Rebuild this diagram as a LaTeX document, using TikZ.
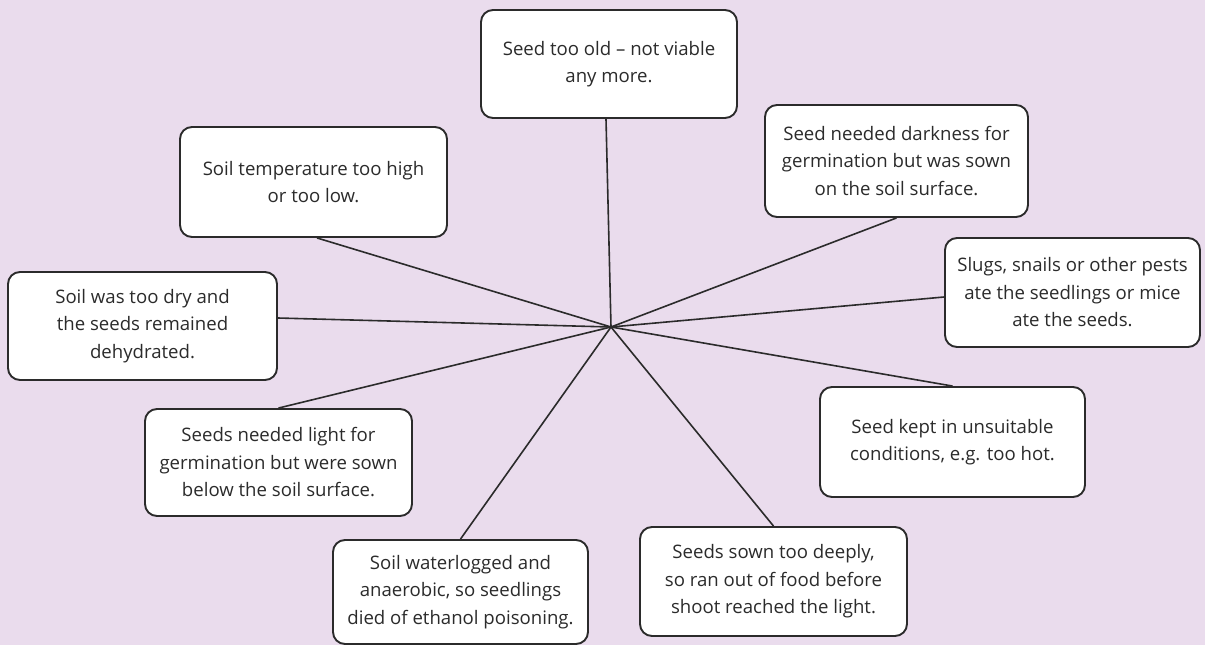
\documentclass[tikz,border=0pt]{standalone}
\usepackage{fontspec}
\setmainfont{Open Sans}
\definecolor{bgc}{HTML}{EADCED}
\definecolor{ink}{HTML}{2B2B2B}
\begin{document}
\begin{tikzpicture}[x=1pt,y=-1pt,
  cbox/.style={draw=ink, line width=1.9pt, fill=white, rounded corners=12pt,
    align=center, inner sep=0pt, text=ink,
    font=\fontsize{18.6}{27.5}\selectfont},
  spoke/.style={draw=ink, line width=1.6pt}]
\useasboundingbox[fill=bgc] (0,0) rectangle (1205,645);
\coordinate (c) at (611,327);
\node[cbox, minimum width=256pt, minimum height=108pt] (b1) at (609,64) {Seed too old -- not viable\\any more.};
\node[cbox, minimum width=267pt, minimum height=110pt] (b2) at (313.5,182) {Soil temperature too high\\or too low.};
\node[cbox, minimum width=263pt, minimum height=112pt] (b3) at (896.5,161) {Seed needed darkness for\\germination but was sown\\on the soil surface.};
\node[cbox, minimum width=255pt, minimum height=109pt] (b4) at (1072.5,292.5) {Slugs, snails or other pests\\ate the seedlings or mice\\ate the seeds.};
\node[cbox, minimum width=269pt, minimum height=108pt] (b5) at (142.5,326) {Soil was too dry and\\the seeds remained\\dehydrated.};
\node[cbox, minimum width=265pt, minimum height=110pt] (b6) at (952.5,442) {Seed kept in unsuitable\\conditions, e.g. too hot.};
\node[cbox, minimum width=267pt, minimum height=107pt] (b7) at (278.5,462.5) {Seeds needed light for\\germination but were sown\\below the soil surface.};
\node[cbox, minimum width=255pt, minimum height=104pt] (b8) at (460.5,592) {Soil waterlogged and\\anaerobic, so seedlings\\died of ethanol poisoning.};
\node[cbox, minimum width=267pt, minimum height=109pt] (b9) at (773.5,581.5) {Seeds sown too deeply,\\so ran out of food before\\shoot reached the light.};
\draw[spoke] (c) -- ([xshift=-3pt]b1.south);
\draw[spoke] (c) -- ([xshift=3.5pt]b2.south);
\draw[spoke] (c) -- (b3.south);
\draw[spoke] (c) -- ([yshift=-4.5pt]b4.west);
\draw[spoke] (c) -- ([yshift=8pt]b5.east);
\draw[spoke] (c) -- (b6.north);
\draw[spoke] (c) -- (b7.north);
\draw[spoke] (c) -- (b8.north);
\draw[spoke] (c) -- (b9.north);
\end{tikzpicture}
\end{document}
